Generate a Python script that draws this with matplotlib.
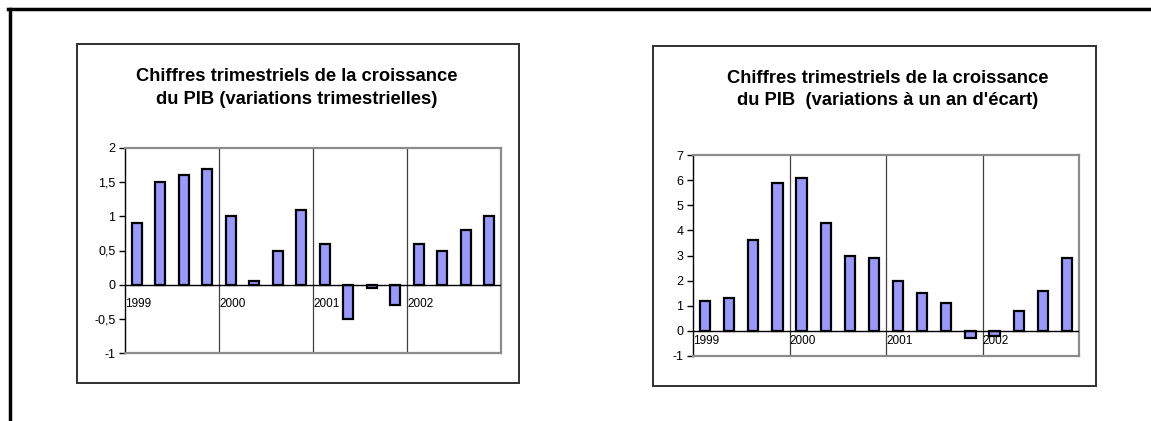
"""
croissance du PIB, deux graphiques trimestriels
"""

import matplotlib.pyplot as plt
from matplotlib.patches import Rectangle
from matplotlib.lines import Line2D

plt.rcParams['font.family'] = ['Liberation Sans', 'DejaVu Sans']

years = ["1999", "2000", "2001", "2002"]
trim = [0.9, 1.5, 1.6, 1.7, 1.0, 0.05, 0.5, 1.1, 0.6, -0.5, -0.05, -0.3, 0.6, 0.5, 0.8, 1.0]
annuel = [1.2, 1.3, 3.6, 5.9, 6.1, 4.3, 3.0, 2.9, 2.0, 1.5, 1.1, -0.3, -0.2, 0.8, 1.6, 2.9]
trim_ticks = [-1, -0.5, 0, 0.5, 1, 1.5, 2]
trim_ticklabels = ["-1", "-0,5", "0", "0,5", "1", "1,5", "2"]
annuel_ticks = [-1, 0, 1, 2, 3, 4, 5, 6, 7]
titre1 = "Chiffres trimestriels de la croissance\ndu PIB (variations trimestrielles)"
titre2 = "Chiffres trimestriels de la croissance\ndu PIB  (variations à un an d'écart)"

W, H = 1151, 421
fig = plt.figure(figsize=(W / 100, H / 100), dpi=100)


def px(x0, y0, x1, y1):
    # pixel box (top-left origin) -> figure fraction
    return [x0 / W, 1 - y1 / H, (x1 - x0) / W, (y1 - y0) / H]


# cadre extérieur
fig.add_artist(Line2D([8 / W, 1], [1 - 8.5 / H, 1 - 8.5 / H], color="black", lw=2.5))
fig.add_artist(Line2D([9.5 / W, 9.5 / W], [0, 1 - 8.5 / H], color="black", lw=2.5))

# boîtes des deux graphiques
for (x0, y0, x1, y1) in [(76.5, 44, 519, 383), (653, 46, 1096, 386)]:
    b = px(x0, y0, x1, y1)
    fig.add_artist(Rectangle((b[0], b[1]), b[2], b[3], transform=fig.transFigure,
                             fill=False, edgecolor="#303030", lw=1.4))

fig.text(297 / W, 1 - 88 / H, titre1, ha="center", va="center", fontsize=13.2,
         fontweight="bold", linespacing=1.45)
fig.text(888 / W, 1 - 89.5 / H, titre2, ha="center", va="center", fontsize=13.2,
         fontweight="bold", linespacing=1.45)


def draw(ax, vals, ylim, ticks, ticklabels, ylab):
    x = range(len(vals))
    ax.bar(x, vals, width=0.42, color="#9999FF", edgecolor="black", linewidth=1.6, zorder=3)
    ax.set_xlim(-0.5, len(vals) - 0.5)
    ax.set_ylim(*ylim)
    ax.set_yticks(ticks)
    ax.set_yticklabels(ticklabels)
    ax.set_xticks([])
    ax.tick_params(axis="y", length=4, width=1, labelsize=9, pad=3, colors="black")
    for s in ["top", "right", "bottom"]:
        ax.spines[s].set_color("#8c8c8c")
        ax.spines[s].set_linewidth(1.6)
    ax.spines["left"].set_color("black")
    ax.spines["left"].set_linewidth(1)
    ax.axhline(0, color="black", lw=1, zorder=4)
    for k in range(1, 4):
        ax.axvline(4 * k - 0.5, color="#404040", lw=0.9, zorder=1)
    for k, yr in enumerate(years):
        ax.text(4 * k - 0.5, ylab, yr, ha="left", va="center", fontsize=8.5, zorder=5)


ax1 = fig.add_axes(px(125, 148, 501, 353))
draw(ax1, trim, (-1, 2), trim_ticks, trim_ticklabels, -0.28)

ax2 = fig.add_axes(px(693, 155, 1079, 356))
draw(ax2, annuel, (-1, 7), annuel_ticks, [str(t) for t in annuel_ticks], -0.42)

fig.savefig("out.png", dpi=100)
